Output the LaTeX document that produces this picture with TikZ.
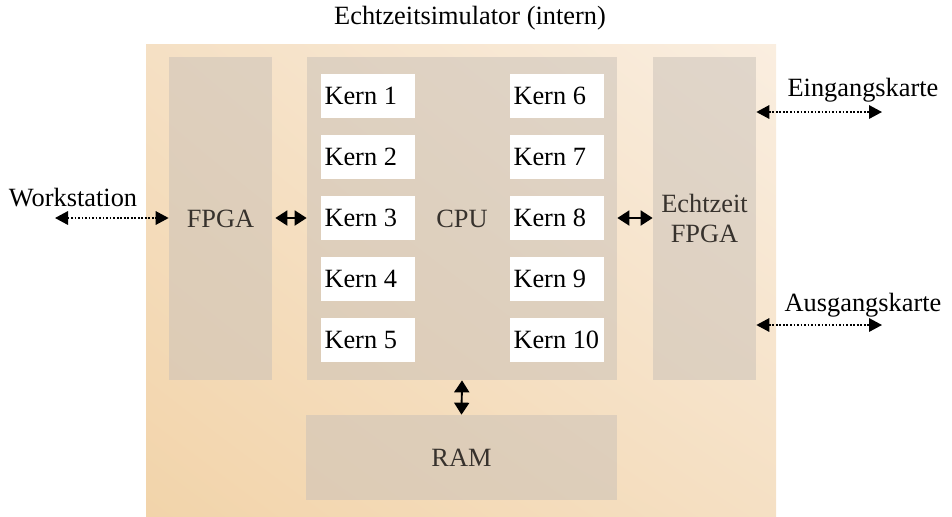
\documentclass[tikz,border=0pt]{standalone}
\usepackage{fontspec}
\setmainfont{Liberation Serif}
\usetikzlibrary{shapes,positioning,arrows.meta,shadings}

\definecolor{simlow}{RGB}{242,212,170}
\definecolor{simmid}{RGB}{245,224,196}
\definecolor{simhigh}{RGB}{250,238,224}
\definecolor{unitfill}{RGB}{200,192,184}
\definecolor{unittext}{RGB}{55,50,45}

\begin{document}
\begin{tikzpicture}[
  font=\fontsize{15}{17.6}\selectfont,
  unit/.style={rectangle, fill=unitfill, fill opacity=0.5, text opacity=1, text=unittext, align=center, minimum width=2.06cm, minimum height=6.46cm, inner sep=0pt},
  core/.style={rectangle, fill=white, text width=1.74cm, minimum height=0.88cm, inner xsep=0.07cm, align=flush left},
  link/.style={{Triangle[length=0.24cm,width=0.3cm]}-{Triangle[length=0.24cm,width=0.3cm]}, line width=1.1pt},
  port/.style={{Triangle[length=0.26cm,width=0.27cm]}-{Triangle[length=0.26cm,width=0.27cm]}, line width=1pt, densely dotted}
]
\useasboundingbox (0,0) rectangle (19.04,-10.32);

% Simulator background
\shade[lower left=simlow, upper left=simmid, upper right=simhigh, lower right=simmid] (2.92,-0.88) rectangle (15.52,-10.32);
\node (title) at (9.4,-0.36) {Echtzeitsimulator (intern)};

% Units
\node[unit] (fpga) at (4.41,-4.37) {FPGA};
\node[unit, minimum width=6.2cm] (cpu) at (9.24,-4.37) {CPU};
\node[unit] (rtfpga) at (14.09,-4.37) {Echtzeit\\FPGA};
\node[unit, minimum width=6.22cm, minimum height=1.7cm] (ram) at (9.23,-9.15) {RAM};

% Cores
\node[core] (k1) at (7.36,-1.92) {Kern~1};
\node[core] (k2) at (7.36,-3.14) {Kern~2};
\node[core] (k3) at (7.36,-4.36) {Kern~3};
\node[core] (k4) at (7.36,-5.58) {Kern~4};
\node[core] (k5) at (7.36,-6.80) {Kern~5};
\node[core] (k6) at (11.14,-1.92) {Kern~6};
\node[core] (k7) at (11.14,-3.14) {Kern~7};
\node[core] (k8) at (11.14,-4.36) {Kern~8};
\node[core] (k9) at (11.14,-5.58) {Kern~9};
\node[core] (k10) at (11.14,-6.80) {Kern~10};

% External ports
\node (ws) at (1.46,-3.96) {Workstation};
\node (inp) at (17.26,-1.80) {Eingangskarte};
\node (outp) at (17.26,-6.10) {Ausgangskarte};
\coordinate (wsend) at (1.1,-4.36);
\coordinate (inpend) at (17.64,-2.24);
\coordinate (outpend) at (17.64,-6.50);

% Internal links
\draw[link] (fpga.east |- 0,-4.36) ++(0.06,0) -- (cpu.west |- 0,-4.36);
\draw[link] (cpu.east |- 0,-4.36) -- (rtfpga.west |- 0,-4.36);
\draw[link] (cpu.south) -- (ram.north);

% External links
\draw[port] (wsend) -- (fpga.west |- wsend);
\draw[port] (rtfpga.east |- inpend) -- (inpend);
\draw[port] (rtfpga.east |- outpend) -- (outpend);
\end{tikzpicture}
\end{document}
